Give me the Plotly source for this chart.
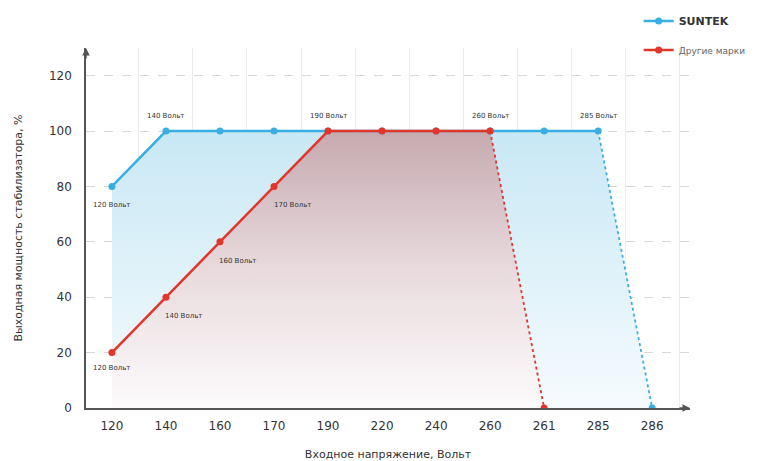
import plotly.graph_objects as go

categories = ["120", "140", "160", "170", "190", "220", "240", "260", "261", "285", "286"]
suntek = [80, 100, 100, 100, 100, 100, 100, 100, 100, 100, 0]
others = [20, 40, 60, 80, 100, 100, 100, 100, 0]
y_ticks = [0, 20, 40, 60, 80, 100, 120]

suntek_labels = [(0, "120 Вольт", "below"), (1, "140 Вольт", "above"), (4, "190 Вольт", "above"),
                 (7, "260 Вольт", "above"), (9, "285 Вольт", "above")]
others_labels = [(0, "120 Вольт", "below"), (1, "140 Вольт", "right"), (2, "160 Вольт", "right"),
                 (3, "170 Вольт", "right")]

BLUE = "#3aaee2"
RED = "#e2362b"

xi = list(range(len(categories)))
xs = xi[:len(suntek)]
xo = xi[:len(others)]

fig = go.Figure()

# fills
fig.add_trace(go.Scatter(x=xs, y=suntek, mode="lines", line=dict(width=0), fill="tozeroy",
                         fillgradient=dict(type="vertical",
                                           colorscale=[[0, "rgba(246,251,254,1)"], [1, "rgba(200,232,245,1)"]]),
                         showlegend=False, hoverinfo="skip"))
fig.add_trace(go.Scatter(x=xo, y=others, mode="lines", line=dict(width=0), fill="tozeroy",
                         fillgradient=dict(type="vertical",
                                           colorscale=[[0, "rgba(253,251,252,1)"], [0.5, "rgba(232,218,221,1)"], [1, "rgba(198,170,176,1)"]]),
                         showlegend=False, hoverinfo="skip"))

# dotted drops
fig.add_trace(go.Scatter(x=xs[-2:], y=suntek[-2:], mode="lines", line=dict(color=BLUE, width=1.8, dash="dot"),
                         showlegend=False, hoverinfo="skip"))
fig.add_trace(go.Scatter(x=xo[-2:], y=others[-2:], mode="lines", line=dict(color=RED, width=1.8, dash="dot"),
                         showlegend=False, hoverinfo="skip"))

# solid lines with markers
fig.add_trace(go.Scatter(x=xs[:-1], y=suntek[:-1], mode="lines+markers", name="<b>SUNTEK</b>",
                         line=dict(color=BLUE, width=2.5), marker=dict(color=BLUE, size=7), legendgroup="a"))
fig.add_trace(go.Scatter(x=[xs[-1]], y=[suntek[-1]], mode="markers", marker=dict(color=BLUE, size=7),
                         showlegend=False))
fig.add_trace(go.Scatter(x=xo[:-1], y=others[:-1], mode="lines+markers",
                         name="<span style='font-size:9px;color:#666'>Другие марки</span>",
                         line=dict(color=RED, width=2.5), marker=dict(color=RED, size=7), legendgroup="b"))
fig.add_trace(go.Scatter(x=[xo[-1]], y=[others[-1]], mode="markers", marker=dict(color=RED, size=7),
                         showlegend=False))

lab_font = dict(family="DejaVu Sans", size=7, color="#333")
for i, t, pos in suntek_labels:
    ys = -19 if pos == "below" else 15
    fig.add_annotation(x=i, y=suntek[i], text=t, showarrow=False, yshift=ys, font=lab_font)
for i, t, pos in others_labels:
    if pos == "below":
        fig.add_annotation(x=i, y=others[i], text=t, showarrow=False, yshift=-15, font=lab_font)
    else:
        fig.add_annotation(x=i, y=others[i], text=t, showarrow=False, yshift=-19, xshift=18, font=lab_font)

# axis arrows
fig.add_annotation(x=1, y=0, xref="paper", yref="paper", ax=-12, ay=0, showarrow=True,
                   arrowhead=2, arrowsize=1, arrowwidth=1.5, arrowcolor="#555", text="")
fig.add_annotation(x=0, y=1, xref="paper", yref="paper", ax=0, ay=12, showarrow=True,
                   arrowhead=2, arrowsize=1, arrowwidth=1.5, arrowcolor="#555", text="")

fig.update_layout(
    width=770, height=453,
    margin=dict(l=78, r=88, t=40, b=53, autoexpand=False),
    paper_bgcolor="white", plot_bgcolor="white",
    font=dict(family="DejaVu Sans", color="#333"),
    legend=dict(x=0.915, y=1.115, xanchor="left", yanchor="top", tracegroupgap=10,
                font=dict(size=11, color="#333"), bgcolor="rgba(0,0,0,0)"),
    xaxis=dict(range=[-0.48, 10.7], tickvals=xi, ticktext=categories, showgrid=False,
               showline=True, linecolor="#555", linewidth=1.5, zeroline=False,
               tickfont=dict(size=12, color="#333"), ticks="", ticklabelstandoff=6,
               minor=dict(tickvals=[i + 0.5 for i in xi], showgrid=True, gridcolor="#ececec", gridwidth=1),
               title=dict(text="Входное напряжение, Вольт", font=dict(size=11, color="#333"), standoff=18)),
    yaxis=dict(range=[0, 130], tickvals=y_ticks, showgrid=True, gridcolor="#d8d8d8", griddash="dash",
               showline=True, linecolor="#555", linewidth=1.5, zeroline=False,
               tickfont=dict(size=12, color="#333"), ticks="", ticklabelstandoff=10,
               title=dict(text="Выходная мощность стабилизатора, %", font=dict(size=11, color="#333"), standoff=24)),
)

fig.write_html("out.html")
